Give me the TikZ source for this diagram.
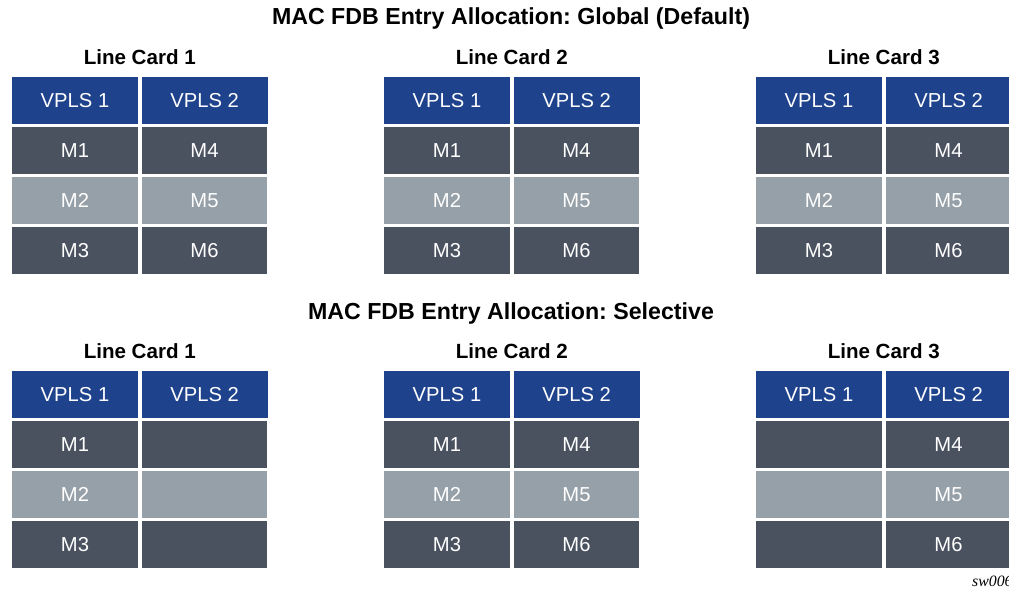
\documentclass[tikz,border=0pt]{standalone}
\usepackage{fontspec}
\setmainfont{Liberation Sans}
\newfontfamily\tagfont{Liberation Serif}
\frenchspacing
\usetikzlibrary{positioning}
\definecolor{cHead}{RGB}{31,66,140}
\definecolor{cDark}{RGB}{74,82,96}
\definecolor{cLight}{RGB}{150,160,168}
\tikzset{
	cell/.style     ={rectangle, minimum width=2.52cm, minimum height=0.94cm, inner sep=0pt, text=white, font=\fontsize{11.5}{13}\selectfont},
	headcell/.style ={cell, fill=cHead},
	darkcell/.style ={cell, fill=cDark},
	lightcell/.style={cell, fill=cLight},
	cardlabel/.style={font=\bfseries\fontsize{11.7}{14}\selectfont},
	maintitle/.style={font=\bfseries\fontsize{13.2}{16}\selectfont},
}
% #1 prefix, #2 x of first column, #3 y of header row, #4 card, #5/#6 fill column 1/2
\newcommand{\cardtable}[6]{%
	\node[headcell] (#1h1) at (#2,#3) {VPLS 1};
	\node[headcell, right=0.06cm of #1h1] (#1h2) {VPLS 2};
	\node[cardlabel] (#1lbl) at (#2+64.75,#3-43.5) {Line Card #4};
	\foreach \r/\st in {1/darkcell, 2/lightcell, 3/darkcell}{
		\pgfmathtruncatemacro\nb{\r+3}
		\node[\st] (#1a\r) at (#2,#3+50*\r) {\ifnum#5=1 M\r\fi};
		\node[\st] (#1b\r) at (#2+129.5,#3+50*\r) {\ifnum#6=1 M\nb\fi};
	}}

\begin{document}
\begin{tikzpicture}[x=0.02cm, y=-0.02cm]
	\useasboundingbox (0,0) rectangle (1009,590);
	% global (default)
	\node[maintitle] (gtitle) at (511,19) {MAC FDB Entry Allocation: Global (Default)};
	\cardtable{ga}{75}{100.5}{1}{1}{1}
	\cardtable{gb}{447}{100.5}{2}{1}{1}
	\cardtable{gc}{819}{100.5}{3}{1}{1}
	% selective
	\node[maintitle] (stitle) at (511,314) {MAC FDB Entry Allocation: Selective};
	\cardtable{sa}{75}{394.5}{1}{1}{0}
	\cardtable{sb}{447}{394.5}{2}{1}{1}
	\cardtable{sc}{819}{394.5}{3}{0}{1}
	\node[anchor=base west, font=\tagfont\itshape\fontsize{9}{10}\selectfont] (tag) at (966,587) {sw0069};
\end{tikzpicture}
\end{document}
